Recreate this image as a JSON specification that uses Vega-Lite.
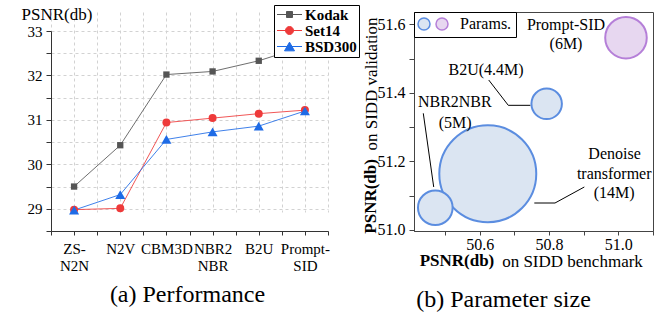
{
  "$schema": "https://vega.github.io/schema/vega-lite/v6.json",
  "padding": {"left": 21, "top": 4, "right": 0, "bottom": 0},
  "background": "white",
  "config": {
    "font": "Liberation Serif",
    "axis": {"labelFont": "Liberation Serif", "titleFont": "Liberation Serif", "labelColor": "#000", "titleColor": "#000", "domainColor": "#333", "tickColor": "#333", "titleFontWeight": "normal"},
    "legend": {"labelFont": "Liberation Serif", "labelColor": "#000"},
    "title": {"font": "Liberation Serif", "fontWeight": "normal", "color": "#000"},
    "text": {"font": "Liberation Serif"},
    "view": {"stroke": null}
  },
  "datasets": {
    "perf": [
      {"m": 1, "method": "ZS-N2N", "series": "Kodak", "v": 29.50},
      {"m": 2, "method": "N2V", "series": "Kodak", "v": 30.43},
      {"m": 3, "method": "CBM3D", "series": "Kodak", "v": 32.02},
      {"m": 4, "method": "NBR2NBR", "series": "Kodak", "v": 32.09},
      {"m": 5, "method": "B2U", "series": "Kodak", "v": 32.33},
      {"m": 6, "method": "Prompt-SID", "series": "Kodak", "v": 32.66},
      {"m": 1, "method": "ZS-N2N", "series": "Set14", "v": 28.98},
      {"m": 2, "method": "N2V", "series": "Set14", "v": 29.01},
      {"m": 3, "method": "CBM3D", "series": "Set14", "v": 30.94},
      {"m": 4, "method": "NBR2NBR", "series": "Set14", "v": 31.04},
      {"m": 5, "method": "B2U", "series": "Set14", "v": 31.14},
      {"m": 6, "method": "Prompt-SID", "series": "Set14", "v": 31.22},
      {"m": 1, "method": "ZS-N2N", "series": "BSD300", "v": 28.97},
      {"m": 2, "method": "N2V", "series": "BSD300", "v": 29.32},
      {"m": 3, "method": "CBM3D", "series": "BSD300", "v": 30.56},
      {"m": 4, "method": "NBR2NBR", "series": "BSD300", "v": 30.73},
      {"m": 5, "method": "B2U", "series": "BSD300", "v": 30.86},
      {"m": 6, "method": "Prompt-SID", "series": "BSD300", "v": 31.20}
    ],
    "bubbles": [
      {"name": "Denoise transformer", "params": 14, "x": 50.623, "y": 51.164, "grp": "others"},
      {"name": "NBR2NBR", "params": 5, "x": 50.4715, "y": 51.065, "grp": "others"},
      {"name": "B2U", "params": 4.4, "x": 50.793, "y": 51.368, "grp": "others"},
      {"name": "Prompt-SID", "params": 6, "x": 51.022, "y": 51.561, "grp": "ours"}
    ],
    "leaders": [
      {"id": "b2u", "k": 1, "x": 50.6257, "y": 51.4376},
      {"id": "b2u", "k": 2, "x": 50.6822, "y": 51.3637},
      {"id": "b2u", "k": 3, "x": 50.7458, "y": 51.3637},
      {"id": "nbr", "k": 1, "x": 50.4368, "y": 51.3404},
      {"id": "nbr", "k": 2, "x": 50.4669, "y": 51.1254},
      {"id": "dt", "k": 1, "x": 50.9017, "y": 51.1254},
      {"id": "dt", "k": 2, "x": 50.8171, "y": 51.0787},
      {"id": "dt", "k": 3, "x": 50.7573, "y": 51.0787}
    ],
    "notes": [
      {"t": "Prompt-SID", "x": 50.8488, "y": 51.598},
      {"t": "(6M)", "x": 50.8488, "y": 51.5417},
      {"t": "B2U(4.4M)", "x": 50.6179, "y": 51.4659},
      {"t": "NBR2NBR", "x": 50.5278, "y": 51.3743},
      {"t": "(5M)", "x": 50.529, "y": 51.313},
      {"t": "Denoise", "x": 50.989, "y": 51.2208},
      {"t": "transformer", "x": 50.988, "y": 51.1642},
      {"t": "(14M)", "x": 50.988, "y": 51.1087}
    ],
    "axisbold": [
      {"t": "PSNR(db)", "x": 50.534, "y": 50.909, "rot": 0},
      {"t": "PSNR(db)", "x": 50.286, "y": 51.098, "rot": 270}
    ]
  },
  "spacing": 86,
  "bounds": "flush",
  "resolve": {"scale": {"color": "independent", "shape": "independent", "fill": "independent", "stroke": "independent", "size": "independent"}},
  "hconcat": [
    {
      "width": 277,
      "height": 219,
      "data": {"name": "perf"},
      "title": {"text": "(a) Performance", "orient": "bottom", "anchor": "middle", "frame": "group", "fontSize": 24, "offset": 10, "dx": -2},
      "encoding": {
        "x": {
          "field": "m", "type": "quantitative",
          "scale": {"domain": [0.5, 6.5], "nice": false, "zero": false},
          "axis": {
            "title": null,
            "values": [0.5, 1, 1.5, 2, 2.5, 3, 3.5, 4, 4.5, 5, 5.5, 6, 6.5],
            "labelExpr": "datum.value == 1 ? ['ZS-', 'N2N'] : datum.value == 2 ? 'N2V' : datum.value == 3 ? 'CBM3D' : datum.value == 4 ? ['NBR2', 'NBR'] : datum.value == 5 ? 'B2U' : datum.value == 6 ? ['Prompt-', 'SID'] : ''",
            "labelFontSize": 15, "labelLineHeight": 17, "labelPadding": 6, "tickSize": 4,
            "labelOverlap": false, "labelBound": false, "labelFlush": false,
            "grid": true, "gridDash": [3, 3], "gridColor": "#d2d2d2"
          }
        },
        "y": {
          "field": "v", "type": "quantitative",
          "scale": {"domain": [28.5, 33], "nice": false, "zero": false, "range": [219, 19]},
          "axis": {
            "title": "PSNR(db)", "titleAngle": 0, "titleX": -30, "titleY": 2, "titleAlign": "left", "titleBaseline": "middle", "titleFontSize": 17,
            "values": [28.5, 29, 29.5, 30, 30.5, 31, 31.5, 32, 32.5, 33],
            "labelExpr": "datum.value % 1 == 0 ? format(datum.value, '.0f') : ''",
            "labelFontSize": 15, "tickSize": 5, "labelPadding": 4, "labelOverlap": false, "labelFlush": false,
            "grid": true, "gridDash": [3, 3], "gridColor": "#d2d2d2"
          }
        },
        "color": {
          "field": "series", "type": "nominal",
          "scale": {"domain": ["Kodak", "Set14", "BSD300"], "range": ["#555555", "#ee3a3a", "#1e6be6"]},
          "legend": {
            "orient": "none", "legendX": 223, "legendY": -7, "title": null, "direction": "vertical",
            "strokeColor": "#000", "fillColor": "#fff", "padding": 2,
            "labelFontSize": 15, "labelFontWeight": "bold", "labelFont": "Liberation Serif",
            "symbolSize": 100, "symbolOffset": 6, "labelOffset": 8, "rowPadding": 0, "symbolStrokeWidth": 1, "symbolOpacity": 1
          }
        }
      },
      "layer": [
        {"mark": {"type": "line", "strokeWidth": 1, "opacity": 0.85}},
        {
          "transform": [{"filter": "datum.series === 'Kodak'"}],
          "mark": {"type": "point", "filled": true, "opacity": 1, "shape": "square", "size": 40}
        },
        {
          "transform": [{"filter": "datum.series === 'Set14'"}],
          "mark": {"type": "point", "filled": true, "opacity": 1, "shape": "circle", "size": 64}
        },
        {
          "transform": [{"filter": "datum.series === 'BSD300'"}],
          "mark": {"type": "point", "filled": true, "opacity": 1, "shape": "triangle-up", "size": 100}
        },
        {
          "transform": [{"filter": "false"}],
          "mark": {"type": "point", "filled": true, "opacity": 1},
          "encoding": {
            "shape": {
              "field": "series", "type": "nominal",
              "scale": {"domain": ["Kodak", "Set14", "BSD300"], "range": ["M-2.5,0H2.5M-0.6,-0.6H0.6V0.6H-0.6Z", "M-2.5,0H2.5M-0.8,0A0.8,0.8,0,1,1,0.8,0A0.8,0.8,0,1,1,-0.8,0Z", "M-2.5,0H2.5M0,-0.87L1,0.87L-1,0.87Z"]},
              "legend": {
                "orient": "none", "legendX": 223, "legendY": -7, "title": null, "direction": "vertical",
                "strokeColor": "#000", "fillColor": "#fff", "padding": 2,
                "labelFontSize": 15, "labelFontWeight": "bold", "labelFont": "Liberation Serif",
                "symbolSize": 100, "symbolOffset": 6, "labelOffset": 8, "rowPadding": 0, "symbolStrokeWidth": 1, "symbolOpacity": 1
              }
            },
            "stroke": {
              "field": "series", "type": "nominal",
              "scale": {"domain": ["Kodak", "Set14", "BSD300"], "range": ["#555555", "#ee3a3a", "#1e6be6"]},
              "legend": {
                "orient": "none", "legendX": 223, "legendY": -7, "title": null, "direction": "vertical",
                "strokeColor": "#000", "fillColor": "#fff", "padding": 2,
                "labelFontSize": 15, "labelFontWeight": "bold", "labelFont": "Liberation Serif",
                "symbolSize": 100, "symbolOffset": 6, "labelOffset": 8, "rowPadding": 0, "symbolStrokeWidth": 1, "symbolOpacity": 1
              }
            }
          }
        }
      ]
    },
    {
      "width": 239,
      "height": 219,
      "view": {"stroke": "#444", "strokeWidth": 1},
      "title": {"text": "(b) Parameter size", "orient": "bottom", "anchor": "middle", "frame": "group", "fontSize": 24, "offset": 19, "dx": -30},
      "encoding": {
        "x": {
          "field": "x", "type": "quantitative",
          "scale": {"domain": [50.41, 51.1], "nice": false, "zero": false},
          "axis": {
            "title": "on SIDD benchmark", "titleFontSize": 17, "titleX": 158, "titleY": 30, "titleAlign": "center", "titleBaseline": "middle",
            "values": [50.5, 50.6, 50.7, 50.8, 50.9, 51.0, 51.1],
            "labelExpr": "round(datum.value * 10) % 2 == 0 ? format(datum.value, '.1f') : ''",
            "labelFontSize": 16, "tickSize": 4, "labelPadding": 1, "grid": false, "labelOverlap": false, "labelFlush": false,
            "domainColor": "#444", "tickColor": "#444"
          }
        },
        "y": {
          "field": "y", "type": "quantitative",
          "scale": {"domain": [50.997, 51.636], "nice": false, "zero": false},
          "axis": {
            "title": "on SIDD validation", "titleFontSize": 17, "titleX": -43, "titleY": 71.5, "titleAngle": 270, "titleAlign": "center", "titleBaseline": "middle",
            "values": [51.0, 51.1, 51.2, 51.3, 51.4, 51.5, 51.6],
            "labelExpr": "round(datum.value * 10) % 2 == 0 ? format(datum.value, '.1f') : ''",
            "labelFontSize": 16, "tickSize": 5, "labelPadding": 4, "grid": false, "labelOverlap": false, "labelFlush": false,
            "domainColor": "#444", "tickColor": "#444"
          }
        }
      },
      "layer": [
        {
          "data": {"name": "bubbles"},
          "mark": {"type": "point", "shape": "circle", "filled": true, "opacity": 1, "fillOpacity": 1, "strokeWidth": 2},
          "encoding": {
            "size": {"field": "params", "type": "quantitative", "scale": {"type": "pow", "exponent": 2, "domain": [0, 14], "range": [0, 9400]}, "legend": null},
            "fill": {
              "field": "grp", "type": "nominal",
              "scale": {"domain": ["others", "ours"], "range": ["#dbe5f2", "#e7d7f0"]},
              "legend": {
                "orient": "top-left", "offset": 0, "direction": "horizontal", "title": null,
                "labelExpr": "datum.value == 'ours' ? 'Params.\u00a0\u00a0' : ''",
                "labelFontSize": 16, "symbolType": "circle", "symbolSize": 144, "symbolStrokeWidth": 1.5,
                "padding": 4, "strokeColor": "#000", "fillColor": "#fff", "columnPadding": -9, "labelOffset": 10, "symbolOffset": -2, "gridAlign": "none"
              }
            },
            "stroke": {
              "field": "grp", "type": "nominal",
              "scale": {"domain": ["others", "ours"], "range": ["#5b8de0", "#b57fd8"]},
              "legend": {
                "orient": "top-left", "offset": 0, "direction": "horizontal", "title": null,
                "labelExpr": "datum.value == 'ours' ? 'Params.\u00a0\u00a0' : ''",
                "labelFontSize": 16, "symbolType": "circle", "symbolSize": 144, "symbolStrokeWidth": 1.5,
                "padding": 4, "strokeColor": "#000", "fillColor": "#fff", "columnPadding": -9, "labelOffset": 10, "symbolOffset": -2, "gridAlign": "none"
              }
            }
          }
        },
        {
          "data": {"name": "leaders"},
          "mark": {"type": "line", "color": "#000", "strokeWidth": 1},
          "encoding": {"detail": {"field": "id"}, "order": {"field": "k", "type": "quantitative"}}
        },
        {
          "data": {"name": "notes"},
          "mark": {"type": "text", "fontSize": 16, "align": "center", "baseline": "middle", "color": "#000"},
          "encoding": {"text": {"field": "t"}}
        },
        {
          "data": {"name": "axisbold"},
          "transform": [{"filter": "datum.rot == 0"}],
          "mark": {"type": "text", "fontSize": 17, "fontWeight": "bold", "align": "center", "baseline": "middle", "color": "#000"},
          "encoding": {"text": {"field": "t"}}
        },
        {
          "data": {"name": "axisbold"},
          "transform": [{"filter": "datum.rot == 270"}],
          "mark": {"type": "text", "fontSize": 17, "fontWeight": "bold", "align": "center", "baseline": "middle", "angle": 270, "color": "#000"},
          "encoding": {"text": {"field": "t"}}
        }
      ]
    }
  ]
}
